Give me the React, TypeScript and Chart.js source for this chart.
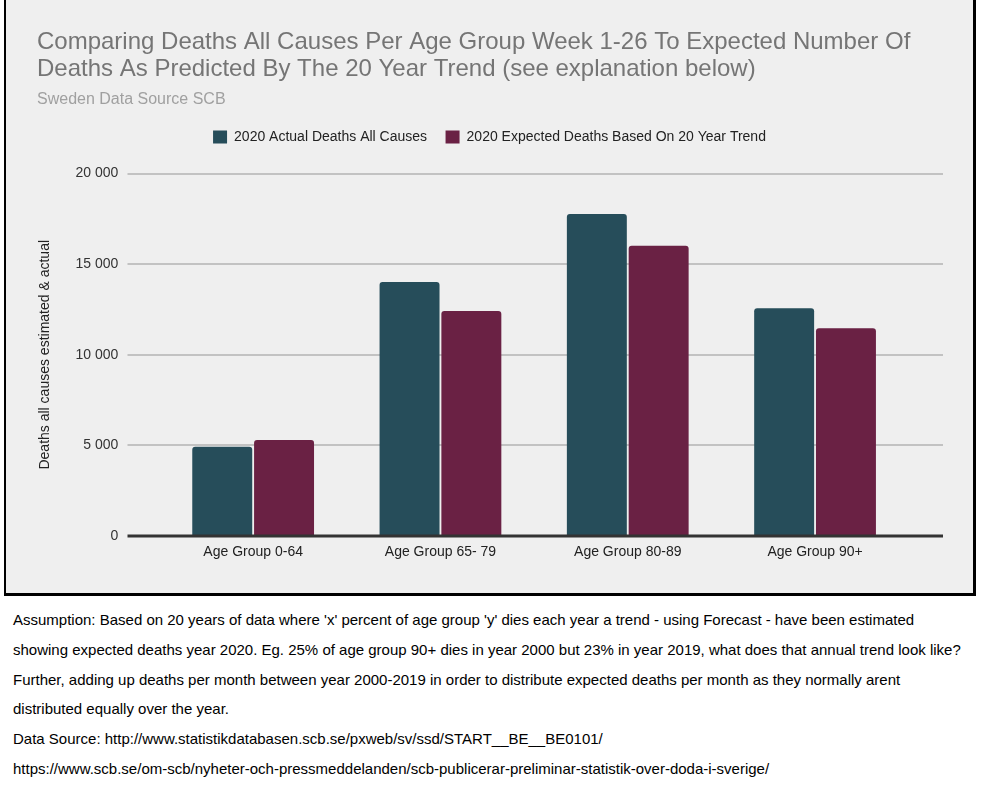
import React, { useEffect, useRef } from "react";
import { Chart, registerables } from "chart.js";

Chart.register(...registerables);

const categories = ["Age Group 0-64", "Age Group 65- 79", "Age Group 80-89", "Age Group 90+"];
const actualDeaths = [4930, 14010, 17770, 12560];
const expectedDeaths = [5300, 12410, 16020, 11460];
const seriesNames = ["2020 Actual Deaths All Causes", "2020 Expected Deaths Based On 20 Year Trend"];
const titleLines = [
  "Comparing Deaths All Causes Per Age Group Week 1-26 To Expected Number Of",
  "Deaths As Predicted By The 20 Year Trend (see explanation below)",
];
const subtitleText = "Sweden Data Source SCB";
const yAxisTitle = "Deaths all causes estimated & actual";
const yTicks = [0, 5000, 10000, 15000, 20000];
const noteLines = [
  "Assumption: Based on 20 years of data where 'x' percent of age group 'y' dies each year a trend - using Forecast - have been estimated",
  "showing expected deaths year 2020. Eg. 25% of age group 90+ dies in year 2000 but 23% in year 2019, what does that annual trend look like?",
  "Further, adding up deaths per month between year 2000-2019 in order to distribute expected deaths per month as they normally arent",
  "distributed equally over the year.",
  "Data Source: http://www.statistikdatabasen.scb.se/pxweb/sv/ssd/START__BE__BE0101/",
  "https://www.scb.se/om-scb/nyheter-och-pressmeddelanden/scb-publicerar-preliminar-statistik-over-doda-i-sverige/",
];

const FONT = "'Liberation Sans', Arial, sans-serif";
const CW = 967;
const CH = 593;
const GRID_LEFT = 121.5;
const GRID_RIGHT = 937;

const gridPlugin = {
  id: "extGrid",
  beforeDatasetsDraw(chart: any) {
    const { ctx, scales } = chart;
    const y = scales.y;
    ctx.save();
    ctx.strokeStyle = "#c2c2c2";
    ctx.lineWidth = 2;
    y.ticks.forEach((t: any) => {
      if (t.value === 0) return;
      const py = Math.round(y.getPixelForValue(t.value));
      ctx.beginPath();
      ctx.moveTo(GRID_LEFT, py);
      ctx.lineTo(GRID_RIGHT, py);
      ctx.stroke();
    });
    ctx.restore();
  },
  afterDatasetsDraw(chart: any) {
    const { ctx, scales } = chart;
    const py = scales.y.getPixelForValue(0);
    ctx.save();
    ctx.strokeStyle = "#333333";
    ctx.lineWidth = 3;
    ctx.beginPath();
    ctx.moveTo(GRID_LEFT, py);
    ctx.lineTo(GRID_RIGHT, py);
    ctx.stroke();
    ctx.restore();
  },
};

function ChartBox() {
  const ref = useRef<HTMLCanvasElement | null>(null);
  useEffect(() => {
    if (!ref.current) return;
    const chart = new Chart(ref.current, {
      type: "bar",
      data: {
        labels: categories,
        datasets: [
          {
            label: seriesNames[0],
            data: actualDeaths,
            backgroundColor: "#264d5a",
            borderRadius: 3,
            categoryPercentage: 0.66,
            barPercentage: 0.97,
            xAxisID: "x",
            yAxisID: "y",
          },
          {
            label: seriesNames[1],
            data: expectedDeaths,
            backgroundColor: "#6a2144",
            borderRadius: 3,
            categoryPercentage: 0.66,
            barPercentage: 0.97,
            xAxisID: "x",
            yAxisID: "y",
          },
        ],
      },
      options: {
        responsive: false,
        animation: false,
        devicePixelRatio: 1,
        layout: { padding: { left: 31, right: 31, top: 0, bottom: 0 } },
        plugins: {
          tooltip: { enabled: false },
          title: {
            display: true,
            text: titleLines,
            align: "start",
            color: "#757575",
            font: { family: FONT, size: 24, weight: "normal", lineHeight: "27px" },
            padding: { top: 28.5, bottom: 0 },
          },
          subtitle: {
            display: true,
            text: subtitleText,
            align: "start",
            color: "#a0a0a0",
            font: { family: FONT, size: 16, weight: "normal", lineHeight: "19.2px" },
            padding: { top: 7.9, bottom: 1.9 },
          },
          legend: {
            display: true,
            position: "top",
            align: "center",
            labels: {
              color: "#222222",
              font: { family: FONT, size: 14 },
              boxWidth: 14,
              boxHeight: 13,
              padding: 18.5,
            },
          },
        },
        scales: {
          x: {
            type: "category",
            position: "bottom",
            grid: { display: false, drawTicks: false },
            border: { display: false },
            ticks: { color: "#222222", font: { family: FONT, size: 14 }, padding: 8, maxRotation: 0 },
            afterFit: (s: any) => {
              s.height = 57;
            },
          },
          xTop: {
            type: "category",
            position: "top",
            display: true,
            grid: { display: false, drawTicks: false },
            border: { display: false },
            ticks: { display: false },
            afterFit: (s: any) => {
              s.height = 19.5;
            },
          },
          y: {
            type: "linear",
            position: "left",
            min: 0,
            max: 20000,
            afterBuildTicks: (s: any) => {
              s.ticks = yTicks.map((v) => ({ value: v }));
            },
            grid: { display: false, drawTicks: false },
            border: { display: false },
            ticks: {
              color: "#333333",
              font: { family: FONT, size: 14 },
              padding: 41.2,
              callback: (v: any) => Number(v).toLocaleString("en-US").replace(/,/g, " "),
            },
            title: {
              display: true,
              text: yAxisTitle,
              color: "#222222",
              font: { family: FONT, size: 14 },
              padding: 0,
            },
            afterFit: (s: any) => {
              s.width = 122.5;
            },
          },
          yRight: {
            type: "linear",
            position: "right",
            display: true,
            min: 0,
            max: 20000,
            grid: { display: false, drawTicks: false },
            border: { display: false },
            ticks: { display: false },
            afterFit: (s: any) => {
              s.width = 33.3;
            },
          },
        },
      },
      plugins: [gridPlugin],
    } as any);
    return () => chart.destroy();
  }, []);
  return <canvas ref={ref} width={CW} height={CH} style={{ display: "block", width: CW, height: CH }} />;
}

export default function App() {
  return (
    <div style={{ position: "absolute", left: 0, top: 0, width: 981, height: 785, background: "#ffffff", overflow: "hidden" }}>
      <div
        style={{
          position: "absolute",
          left: 4,
          top: -3,
          width: 972,
          height: 599,
          boxSizing: "border-box",
          borderTop: "3px solid #000",
          borderLeft: "2px solid #000",
          borderRight: "3px solid #000",
          borderBottom: "3px solid #000",
          background: "#efefef",
        }}
      >
        <ChartBox />
      </div>
      <div
        style={{
          position: "absolute",
          left: 13,
          top: 605,
          fontFamily: FONT,
          fontSize: 15,
          lineHeight: "29.8px",
          color: "#000",
          whiteSpace: "nowrap",
        }}
      >
        {noteLines.map((l, i) => (
          <div key={i}>{l}</div>
        ))}
      </div>
    </div>
  );
}
